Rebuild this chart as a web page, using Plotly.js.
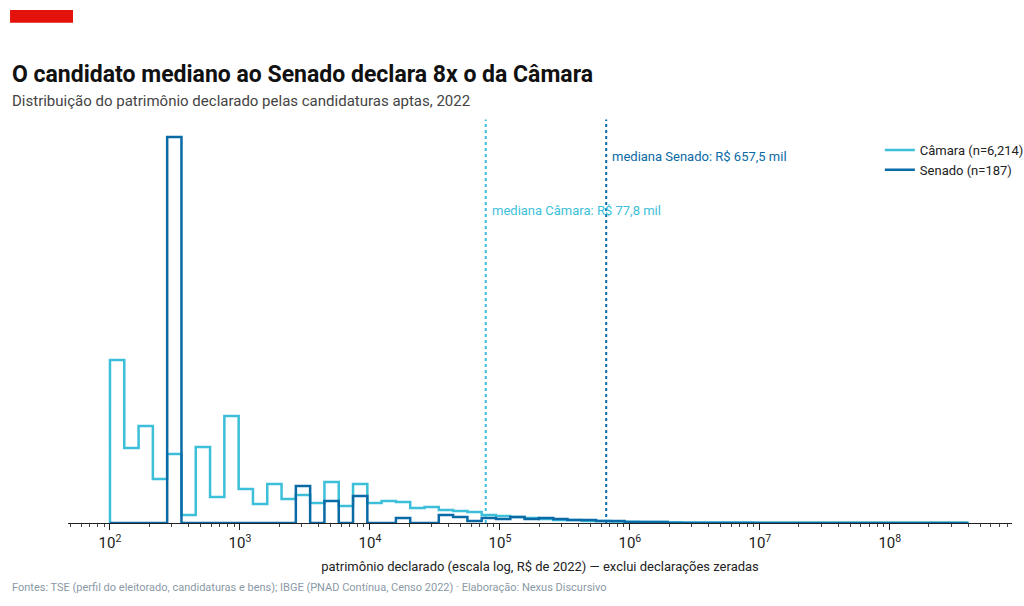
<!DOCTYPE html>
<html>
<head>
<meta charset="utf-8">
<script src="https://cdn.plot.ly/plotly-3.0.1.min.js"></script>
<style>body{margin:0;background:#fff}#chart{width:1024px;height:606px}</style>
</head>
<body>
<div id="chart"></div>
<script>
// log10 bin edges: 60 bins of 0.11 decades starting at 10^2
const binStart = 2.0;
const binWidth = 0.11;

// bar heights (relative, y axis hidden)
const camara = [163, 75, 97, 44, 69, 8, 76, 26, 107, 34, 19, 39, 24, 28, 20, 41, 17, 39, 20, 22,
  21, 15, 16, 13, 12, 11, 8, 7, 6, 5, 4, 3, 3, 2, 2, 1.5, 1.2, 1, 1, 0.8,
  0.6, 0.5, 0.5, 0.4, 0.4, 0.3, 0.3, 0.3, 0.3, 0.3, 0.3, 0.3, 0.3, 0.3, 0.3, 0.3, 0.3, 0.3, 0.3, 0.3];
const senado = [0, 0, 0, 0, 386, 0, 0, 0, 0, 0, 0, 0, 0, 37, 0, 22, 0, 27, 0, 0,
  5, 0, 0, 8, 6, 2, 5, 4, 6, 4, 5, 4, 3, 3, 2, 2, 1, 1, 1, 0,
  0, 0, 0, 0, 0, 0, 0, 0, 0, 0, 0, 0, 0, 0, 0, 0, 0, 0, 0, 0];

const medianCamara = 77800;
const medianSenado = 657500;
const tickVals = [1e2, 1e3, 1e4, 1e5, 1e6, 1e7, 1e8];
const tickText = ['10<sup>2</sup>', '10<sup>3</sup>', '10<sup>4</sup>', '10<sup>5</sup>', '10<sup>6</sup>', '10<sup>7</sup>', '10<sup>8</sup>'];

const stepTrace = (counts, name, color) => {
  let x = [Math.pow(10, binStart)], y = [0];
  counts.forEach((c, i) => {
    x.push(Math.pow(10, binStart + i * binWidth));
    y.push(c);
  });
  x.push(Math.pow(10, binStart + counts.length * binWidth));
  y.push(0);
  return {x: x, y: y, name: name, type: 'scatter', mode: 'lines',
    line: {shape: 'hv', color: color, width: 2.5}, hoverinfo: 'skip'};
};

const cCam = '#3dbfd9', cSen = '#0a6aa6';
const font = '"Liberation Sans Narrow", "Roboto", sans-serif';

const layout = {
  width: 1024, height: 606,
  margin: {l: 68, r: 12, t: 135, b: 83, autoexpand: false},
  paper_bgcolor: '#fff', plot_bgcolor: '#fff',
  font: {family: font, color: '#222', size: 13},
  showlegend: true,
  legend: {x: 0.86, y: 1.0, xanchor: 'left', yanchor: 'top', font: {size: 13}, bgcolor: 'rgba(0,0,0,0)'},
  xaxis: {type: 'log', range: [1.677, 8.94], tickvals: tickVals, ticktext: tickText,
    showgrid: false, zeroline: false, showline: true, linecolor: '#222', linewidth: 1,
    ticks: 'outside', ticklen: 6, tickcolor: '#222', tickfont: {size: 15},
    minor: {ticks: 'outside', ticklen: 3, tickcolor: '#444', dtick: 'D1', showgrid: false},
    title: {text: 'patrimônio declarado (escala log, R$ de 2022) — exclui declarações zeradas', font: {size: 13}, standoff: 10}},
  yaxis: {range: [0, 388], visible: false, fixedrange: true},
  shapes: [
    {type: 'rect', xref: 'paper', yref: 'paper', x0: -0.0614, x1: 0.0053, y0: 1.322, y1: 1.289, fillcolor: '#e3120b', line: {width: 0}},
    {type: 'line', xref: 'x', yref: 'paper', x0: medianCamara, x1: medianCamara, y0: 0, y1: 1.04, line: {color: cCam, width: 2, dash: 'dot'}},
    {type: 'line', xref: 'x', yref: 'paper', x0: medianSenado, x1: medianSenado, y0: 0, y1: 1.04, line: {color: cSen, width: 2, dash: 'dot'}}
  ],
  annotations: [
    {xref: 'paper', yref: 'paper', x: -0.0614, y: 1.155, xanchor: 'left', yanchor: 'middle', showarrow: false,
      text: '<b>O candidato mediano ao Senado declara 8x o da Câmara</b>', font: {size: 23, color: '#111'}},
    {xref: 'paper', yref: 'paper', x: -0.0614, y: 1.088, xanchor: 'left', yanchor: 'middle', showarrow: false,
      text: 'Distribuição do patrimônio declarado pelas candidaturas aptas, 2022', font: {size: 15, color: '#444'}},
    {xref: 'x', yref: 'paper', x: Math.log10(medianCamara), y: 0.83, xanchor: 'left', showarrow: false, xshift: 4,
      text: 'mediana Câmara: R$ 77,8 mil', font: {size: 13, color: cCam}},
    {xref: 'x', yref: 'paper', x: Math.log10(medianSenado), y: 0.97, xanchor: 'left', showarrow: false, xshift: 4,
      text: 'mediana Senado: R$ 657,5 mil', font: {size: 13, color: cSen}},
    {xref: 'paper', yref: 'paper', x: -0.0614, y: -0.165, xanchor: 'left', yanchor: 'middle', showarrow: false,
      text: 'Fontes: TSE (perfil do eleitorado, candidaturas e bens); IBGE (PNAD Contínua, Censo 2022) · Elaboração: Nexus Discursivo',
      font: {size: 11, color: '#8a99a6'}}
  ]
};

Plotly.newPlot('chart', [stepTrace(camara, 'Câmara (n=6,214)', cCam), stepTrace(senado, 'Senado (n=187)', cSen)],
  layout, {displayModeBar: false, responsive: false});
</script>
</body>
</html>
